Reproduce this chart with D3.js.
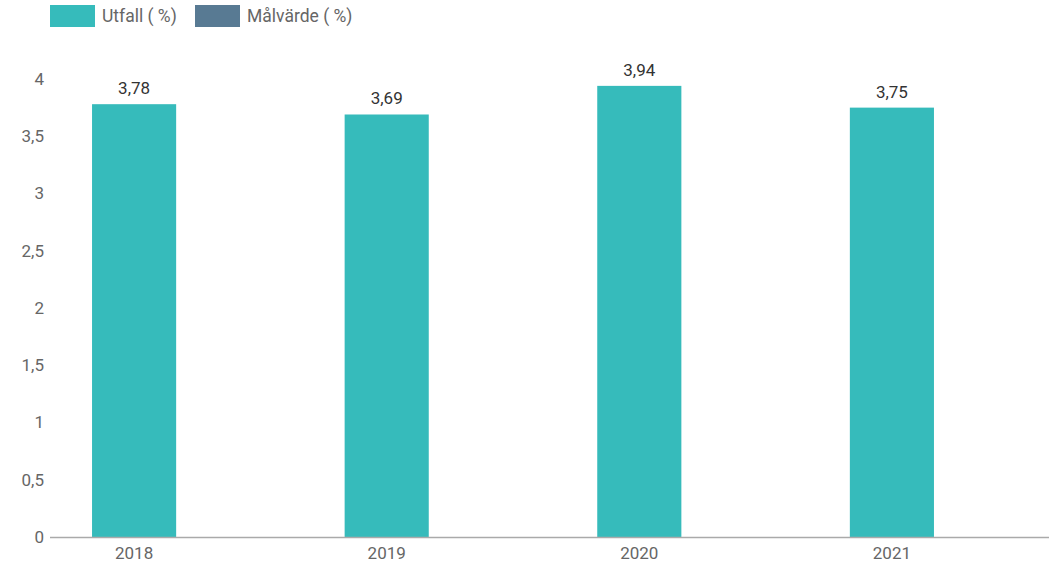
<!DOCTYPE html>
<html>
<head>
<meta charset="utf-8">
<script src="https://cdn.jsdelivr.net/npm/d3@7"></script>
<style>
  html, body { margin: 0; padding: 0; background: #fff; }
  svg { display: block; font-family: Roboto, "Noto Sans", sans-serif; }
</style>
</head>
<body>
<svg id="chart" width="1049" height="564"></svg>
<script>
const years = ["2018", "2019", "2020", "2021"];
const outcome = [3.78, 3.69, 3.94, 3.75];
const yTicks = [0, 0.5, 1, 1.5, 2, 2.5, 3, 3.5, 4];
const legendLabels = ["Utfall ( %)", "Målvärde ( %)"];
const legendColors = ["#36bbbb", "#587a93"];

const svg = d3.select("#chart");
const fmt = v => String(v).replace(".", ",");

const x = d3.scaleBand()
  .domain(years)
  .range([50, 976])
  .paddingInner(0.667)
  .paddingOuter(0.1664);

const y = d3.scaleLinear().domain([0, 4]).range([537, 79]);

// Legend
const legend = svg.append("g");
const legendX = [50, 195];
legendLabels.forEach((label, i) => {
  legend.append("rect")
    .attr("x", legendX[i]).attr("y", 5)
    .attr("width", 45).attr("height", 22)
    .attr("fill", legendColors[i]);
  legend.append("text")
    .attr("x", legendX[i] + 52).attr("y", 22)
    .attr("font-size", 17.5).attr("fill", "#666")
    .text(label);
});

// Y axis labels
const yAxis = d3.axisLeft(y).tickValues(yTicks).tickFormat(fmt).tickSize(0).tickPadding(0);
svg.append("g")
  .attr("transform", "translate(44,0)")
  .call(yAxis)
  .call(g => g.select(".domain").remove())
  .call(g => g.selectAll("text").attr("font-size", 17).attr("fill", "#666").attr("font-family", "Roboto, sans-serif"));

// Bars
svg.append("g").selectAll("rect")
  .data(years)
  .join("rect")
  .attr("x", d => x(d))
  .attr("y", (d, i) => y(outcome[i]))
  .attr("width", x.bandwidth())
  .attr("height", (d, i) => y(0) - y(outcome[i]))
  .attr("fill", legendColors[0]);

// Value labels
svg.append("g").selectAll("text")
  .data(years)
  .join("text")
  .attr("x", d => x(d) + x.bandwidth() / 2)
  .attr("y", (d, i) => y(outcome[i]) - 10)
  .attr("text-anchor", "middle")
  .attr("font-size", 17).attr("fill", "#333")
  .text((d, i) => fmt(outcome[i]));

// X axis baseline and labels
svg.append("line")
  .attr("x1", 50).attr("x2", 1049)
  .attr("y1", y(0) + 0.5).attr("y2", y(0) + 0.5)
  .attr("stroke", "#aaa").attr("stroke-width", 1.5);

const xAxis = d3.axisBottom(x).tickSize(0).tickPadding(0);
svg.append("g")
  .attr("transform", `translate(0,${y(0)})`)
  .call(xAxis)
  .call(g => g.select(".domain").remove())
  .call(g => g.selectAll("text").attr("font-size", 17).attr("fill", "#666").attr("font-family", "Roboto, sans-serif").attr("dy", "1.3em"));
</script>
</body>
</html>
